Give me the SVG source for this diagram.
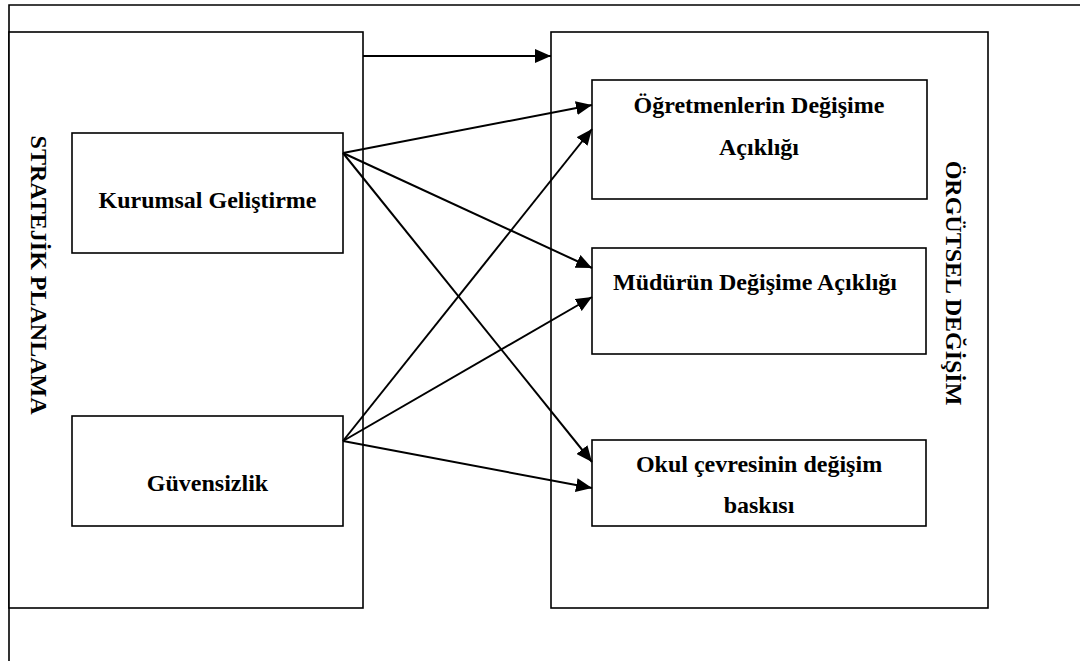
<svg xmlns="http://www.w3.org/2000/svg" width="1080" height="661" viewBox="0 0 1080 661">
  <defs>
    <marker id="arrow" markerUnits="userSpaceOnUse" markerWidth="16" markerHeight="14" refX="16" refY="7" orient="auto">
      <path d="M0,0 L16,7 L0,14 z" fill="#000"/>
    </marker>
    <style>
      .box { fill: #fff; stroke: #000; stroke-width: 1.6; }
      .frame { fill: none; stroke: #000; stroke-width: 1.6; }
      .lbl { font-family: "Liberation Serif", "Times New Roman", serif; font-weight: bold; font-size: 24px; fill: #000; text-anchor: middle; }
      .conn line { stroke: #000; stroke-width: 2; marker-end: url(#arrow); }
    </style>
  </defs>
  <rect width="1080" height="661" fill="#fff"/>
  <g id="frame">
    <path class="frame" d="M1080,5 H9 V661"/>
  </g>
  <g id="stratejik-planlama">
    <rect class="box" x="9" y="32" width="354" height="576"/>
    <text class="lbl" x="31" y="275" transform="rotate(90 31 275)">STRATEJİK PLANLAMA</text>
  </g>
  <g id="orgutsel-degisim">
    <rect class="box" x="551" y="32" width="437" height="576"/>
    <text class="lbl" x="946" y="283" transform="rotate(90 946 283)">ÖRGÜTSEL DEĞİŞİM</text>
  </g>
  <g id="kurumsal">
    <rect class="box" x="72" y="133" width="271" height="120"/>
    <text class="lbl" x="207.5" y="208">Kurumsal Geliştirme</text>
  </g>
  <g id="guvensizlik">
    <rect class="box" x="72" y="416" width="271" height="110"/>
    <text class="lbl" x="207.5" y="491">Güvensizlik</text>
  </g>
  <g id="ogretmenler">
    <rect class="box" x="592" y="80" width="335" height="119"/>
    <text class="lbl" x="759" y="113">Öğretmenlerin Değişime</text>
    <text class="lbl" x="759" y="155">Açıklığı</text>
  </g>
  <g id="mudur">
    <rect class="box" x="592" y="248" width="334" height="106"/>
    <text class="lbl" x="755" y="290">Müdürün Değişime Açıklığı</text>
  </g>
  <g id="okul">
    <rect class="box" x="592" y="440" width="334" height="86"/>
    <text class="lbl" x="759" y="472">Okul çevresinin değişim</text>
    <text class="lbl" x="759" y="513">baskısı</text>
  </g>
  <g id="connectors" class="conn">
    <line x1="363" y1="56" x2="551" y2="56"/>
    <line x1="343" y1="153" x2="592" y2="105"/>
    <line x1="343" y1="153" x2="592" y2="268"/>
    <line x1="343" y1="153" x2="592" y2="462"/>
    <line x1="343" y1="441" x2="592" y2="129"/>
    <line x1="343" y1="441" x2="592" y2="297"/>
    <line x1="343" y1="441" x2="592" y2="488"/>
  </g>
</svg>
